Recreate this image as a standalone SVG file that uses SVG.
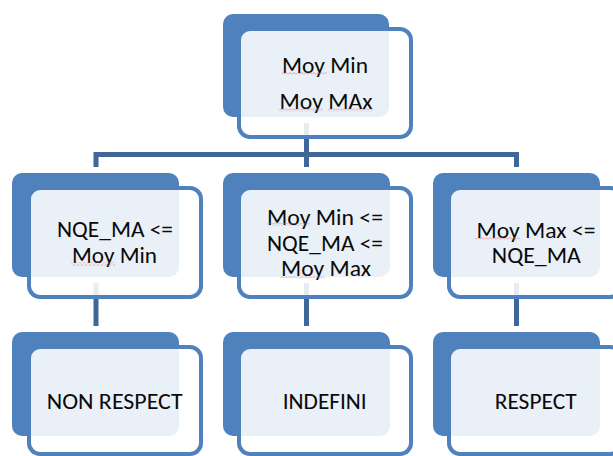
<svg xmlns="http://www.w3.org/2000/svg" width="613" height="456" viewBox="0 0 613 456">
<defs>
<style>
.back{fill:#4f81bd;}
.front{fill:#ffffff;fill-opacity:0.88;stroke:#4f81bd;stroke-width:4;}
.conn{fill:none;stroke:#3f6797;stroke-width:5;stroke-linejoin:miter;}
.t{font-family:Carlito,Lato,"Liberation Sans",sans-serif;font-size:22px;fill:#0a0a0a;text-anchor:middle;}
.sq{fill:url(#squig);}
</style>
<pattern id="squig" x="0" y="0" width="4" height="3" patternUnits="userSpaceOnUse">
<path d="M0,2.5 L2,0.5 L4,2.5" fill="none" stroke="#e87070" stroke-width="0.8" stroke-opacity="0.8"/>
</pattern>
</defs>
<rect width="613" height="456" fill="#ffffff"/>
<g id="connectors">
<path class="conn" d="M306.5,123 V167"/>
<path class="conn" d="M96,167 V154.5 H516.5 V167"/>
<path class="conn" d="M96,283 V326"/>
<path class="conn" d="M306.5,283 V326"/>
<path class="conn" d="M516.5,283 V326"/>
</g>
<g id="node-top">
<rect class="back" x="223" y="14" width="166" height="103" rx="10"/>
<rect class="front" x="239" y="29" width="172" height="108" rx="11"/>
<text class="t" x="325" y="72.5" textLength="86" lengthAdjust="spacingAndGlyphs">Moy Min</text>
<text class="t" x="326" y="108.5" textLength="93" lengthAdjust="spacingAndGlyphs">Moy MAx</text>
<rect class="sq" x="282" y="72" width="45" height="3"/>
<rect class="sq" x="279" y="108.5" width="44" height="3"/>
<rect class="sq" x="328" y="108.5" width="45" height="3"/>
</g>
<g id="node-cond-min">
<rect class="back" x="12" y="173" width="167" height="104" rx="10"/>
<rect class="front" x="29" y="188" width="172" height="109" rx="11"/>
<text class="t" x="115" y="236.5" textLength="116" lengthAdjust="spacingAndGlyphs">NQE_MA &lt;=</text>
<text class="t" x="114.5" y="262.5" textLength="85" lengthAdjust="spacingAndGlyphs">Moy Min</text>
<rect class="sq" x="71" y="262.5" width="44" height="3"/>
</g>
<g id="node-cond-mid">
<rect class="back" x="223" y="173" width="167" height="104" rx="10"/>
<rect class="front" x="239" y="188" width="172" height="109" rx="11"/>
<text class="t" x="325" y="224.5" textLength="116" lengthAdjust="spacingAndGlyphs">Moy Min &lt;=</text>
<text class="t" x="325" y="250.5" textLength="116" lengthAdjust="spacingAndGlyphs">NQE_MA &lt;=</text>
<text class="t" x="326" y="275.5" textLength="90" lengthAdjust="spacingAndGlyphs">Moy Max</text>
<rect class="sq" x="267" y="223" width="43" height="3"/>
<rect class="sq" x="280" y="275.5" width="45" height="3"/>
</g>
<g id="node-cond-max">
<rect class="back" x="433" y="173" width="167" height="104" rx="10"/>
<rect class="front" x="449" y="188" width="172" height="109" rx="11"/>
<text class="t" x="536" y="237.5" textLength="119" lengthAdjust="spacingAndGlyphs">Moy Max &lt;=</text>
<text class="t" x="536.3" y="262.5" textLength="89" lengthAdjust="spacingAndGlyphs">NQE_MA</text>
<rect class="sq" x="475" y="237" width="45" height="3"/>
</g>
<g id="node-non-respect">
<rect class="back" x="12" y="332" width="167" height="104" rx="10"/>
<rect class="front" x="29" y="347" width="172" height="107" rx="11"/>
<text class="t" x="114.7" y="409" textLength="136" lengthAdjust="spacingAndGlyphs">NON RESPECT</text>
</g>
<g id="node-indefini">
<rect class="back" x="223" y="332" width="167" height="104" rx="10"/>
<rect class="front" x="239" y="347" width="172" height="107" rx="11"/>
<text class="t" x="324.7" y="409" textLength="84" lengthAdjust="spacingAndGlyphs">INDEFINI</text>
</g>
<g id="node-respect">
<rect class="back" x="433" y="332" width="167" height="104" rx="10"/>
<rect class="front" x="449" y="347" width="172" height="107" rx="11"/>
<text class="t" x="535.7" y="409" textLength="82" lengthAdjust="spacingAndGlyphs">RESPECT</text>
</g>
</svg>
